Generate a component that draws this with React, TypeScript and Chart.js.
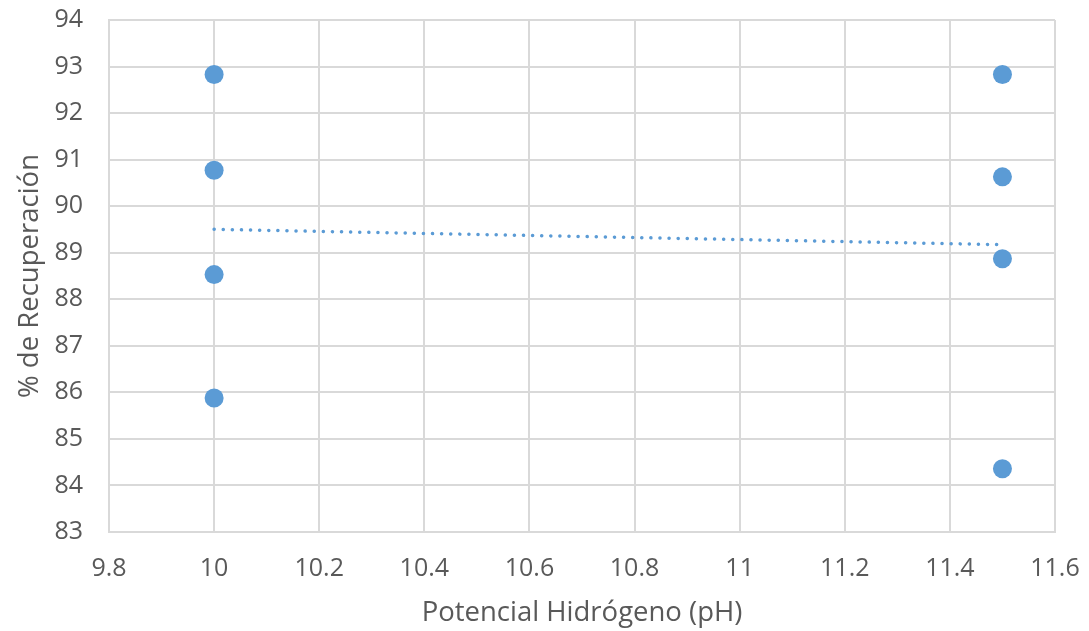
import React, { useEffect, useRef } from "react";
import { Chart, registerables } from "chart.js";

Chart.register(...registerables);

const phA = [10, 10, 10, 10];
const recA = [92.83, 90.77, 88.53, 85.88];
const phB = [11.5, 11.5, 11.5, 11.5];
const recB = [92.83, 90.63, 88.87, 84.36];

const xTitle = "Potencial Hidrógeno (pH)";
const yTitle = "% de Recuperación";

const FONT = "'Open Sans', sans-serif";
const BLUE = "#5b9bd5";
const GRID = "#d9d9d9";
const TEXT = "#595959";

function regression(xs: number[], ys: number[]) {
  const n = xs.length;
  const mx = xs.reduce((a, b) => a + b, 0) / n;
  const my = ys.reduce((a, b) => a + b, 0) / n;
  let sxy = 0, sxx = 0;
  for (let i = 0; i < n; i++) {
    sxy += (xs[i] - mx) * (ys[i] - my);
    sxx += (xs[i] - mx) * (xs[i] - mx);
  }
  const m = sxy / sxx;
  return { m, b: my - m * mx };
}

export default function App() {
  const ref = useRef<HTMLCanvasElement>(null);
  useEffect(() => {
    const xs = [...phA, ...phB];
    const ys = [...recA, ...recB];
    const { m, b } = regression(xs, ys);
    const xMin = Math.min(...xs);
    const xMax = Math.max(...xs);
    const points = xs.map((x, i) => ({ x, y: ys[i] }));
    const chart = new Chart(ref.current!, {
      type: "scatter",
      data: {
        datasets: [
          {
            type: "line",
            data: [
              { x: xMin, y: m * xMin + b },
              { x: xMax, y: m * xMax + b },
            ],
            borderColor: BLUE,
            borderWidth: 3.5,
            borderDash: [0.1, 9],
            borderCapStyle: "round",
            pointRadius: 0,
            fill: false,
          } as any,
          {
            data: points,
            backgroundColor: BLUE,
            borderColor: BLUE,
            pointRadius: 9.5,
            pointBorderWidth: 0,
          },
        ],
      },
      options: {
        animation: false,
        responsive: false,
        maintainAspectRatio: false,
        layout: { padding: { top: 20, right: 34, left: 0, bottom: 0 } },
        plugins: { legend: { display: false }, tooltip: { enabled: false } },
        scales: {
          x: {
            type: "linear",
            min: 9.8,
            max: 11.6,
            afterFit: (s: any) => {
              s.height = 99;
              s.paddingLeft = 0;
              s.paddingRight = 0;
            },
            ticks: {
              stepSize: 0.2,
              color: TEXT,
              font: { family: FONT, size: 25 },
              padding: 22,
              maxRotation: 0,
              callback: (v: any) => String(Number(Number(v).toFixed(1))),
            },
            grid: { color: GRID, lineWidth: 2, drawTicks: false },
            border: { color: GRID, width: 2 },
            title: {
              display: true,
              text: xTitle,
              color: TEXT,
              font: { family: FONT, size: 27.5 },
              padding: { top: 0, bottom: 1 },
            },
          },
          y: {
            type: "linear",
            min: 83,
            max: 94,
            afterFit: (s: any) => {
              s.width = 109;
              s.paddingTop = 0;
              s.paddingBottom = 0;
            },
            ticks: {
              stepSize: 1,
              color: TEXT,
              font: { family: FONT, size: 25 },
              padding: 26,
            },
            grid: { color: GRID, lineWidth: 2, drawTicks: false },
            border: { color: GRID, width: 2 },
            title: {
              display: true,
              text: yTitle,
              color: TEXT,
              font: { family: FONT, size: 27.5 },
              padding: { top: 14, bottom: 0 },
            },
          },
        },
      },
    });
    return () => chart.destroy();
  }, []);
  return (
    <div style={{ position: "fixed", left: 0, top: 0, width: 1089, height: 631, background: "#fff" }}>
      <canvas ref={ref} width={1089} height={631} />
    </div>
  );
}
